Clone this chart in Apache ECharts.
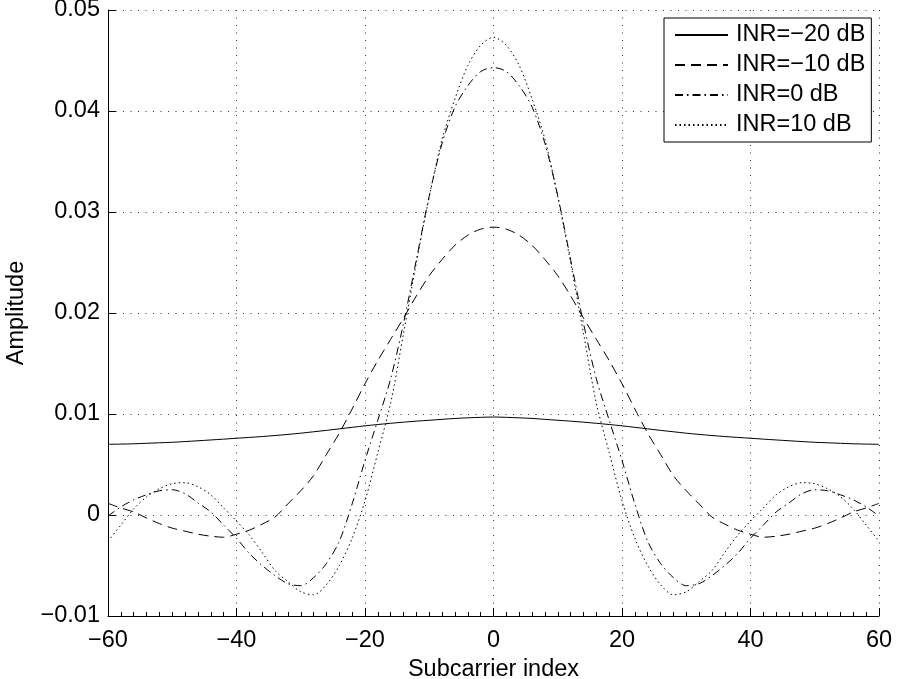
<!DOCTYPE html>
<html>
<head>
<meta charset="utf-8">
<script src="https://cdn.jsdelivr.net/npm/echarts@6/dist/echarts.min.js"></script>
<style>
  html, body { margin: 0; padding: 0; background: #fff; }
  #chart { width: 897px; height: 679px; }
</style>
</head>
<body>
<div id="chart"></div>
<script>
// Subcarrier indices (-60 .. 60, step 2)
const subcarriers = [
  -60, -58, -56, -54, -52, -50, -48, -46, -44, -42, -40, -38, -36, -34, -32, -30,
  -28, -26, -24, -22, -20, -18, -16, -14, -12, -10, -8, -6, -4, -2, 0,
  2, 4, 6, 8, 10, 12, 14, 16, 18, 20, 22, 24, 26, 28, 30,
  32, 34, 36, 38, 40, 42, 44, 46, 48, 50, 52, 54, 56, 58, 60
];

// Amplitude for each interference-to-noise ratio
const inrMinus20 = [
  0.0070, 0.00702, 0.00705, 0.0071, 0.00715, 0.0072, 0.00727, 0.00735, 0.00743, 0.00751,
  0.0076, 0.00768, 0.00777, 0.00787, 0.00798, 0.0081, 0.00824, 0.00838, 0.00853, 0.00868,
  0.00883, 0.00896, 0.00908, 0.00919, 0.00929, 0.00938, 0.00947, 0.00956, 0.00962, 0.00967,
  0.0097,
  0.00967, 0.00962, 0.00956, 0.00947, 0.00938, 0.00929, 0.00919, 0.00908, 0.00896, 0.00883,
  0.00868, 0.00853, 0.00838, 0.00824, 0.0081, 0.00798, 0.00787, 0.00777, 0.00768, 0.0076,
  0.00751, 0.00743, 0.00735, 0.00727, 0.0072, 0.00715, 0.0071, 0.00705, 0.00702, 0.0070
];
const inrMinus10 = [
  0.00115, 0.0007, 0.0003, -0.0003, -0.00085, -0.0013, -0.0016, -0.0019, -0.0021, -0.0022,
  -0.0019, -0.0015, -0.0009, -0.0002, 0.0011, 0.0024, 0.0039, 0.0060, 0.0081, 0.0105,
  0.0130, 0.0153, 0.0174, 0.0195, 0.0217, 0.0237, 0.0253, 0.0267, 0.0277, 0.0283,
  0.0285,
  0.0283, 0.0277, 0.0267, 0.0253, 0.0237, 0.0217, 0.0195, 0.0174, 0.0153, 0.0130,
  0.0105, 0.0081, 0.0060, 0.0039, 0.0024, 0.0011, -0.0002, -0.0009, -0.0015, -0.0019,
  -0.0022, -0.0021, -0.0019, -0.0016, -0.0013, -0.00085, -0.0003, 0.0003, 0.0007, 0.00115
];
const inr0 = [
  -0.0001, 0.0008, 0.0015, 0.0020, 0.0024, 0.0025, 0.0021, 0.0012, 0.0003, -0.0010,
  -0.0023, -0.0038, -0.0050, -0.0060, -0.0068, -0.0070, -0.0062, -0.0048, -0.0026, 0.0011,
  0.0054, 0.0094, 0.0135, 0.0190, 0.0253, 0.0316, 0.0368, 0.0404, 0.0425, 0.0439,
  0.0443,
  0.0439, 0.0425, 0.0404, 0.0368, 0.0316, 0.0253, 0.0190, 0.0135, 0.0094, 0.0054,
  0.0011, -0.0026, -0.0048, -0.0062, -0.0070, -0.0068, -0.0060, -0.0050, -0.0038, -0.0023,
  -0.0010, 0.0003, 0.0012, 0.0021, 0.0025, 0.0024, 0.0020, 0.0015, 0.0008, -0.0001
];
const inr10 = [
  -0.0026, -0.0010, 0.0006, 0.0018, 0.0026, 0.0031, 0.0032, 0.0028, 0.0020, 0.0007,
  -0.0006, -0.0020, -0.0037, -0.0055, -0.0066, -0.0076, -0.0079, -0.0069, -0.0050, -0.0023,
  0.0014, 0.0062, 0.0111, 0.0180, 0.0250, 0.0315, 0.0372, 0.0412, 0.0445, 0.0465,
  0.0473,
  0.0465, 0.0445, 0.0412, 0.0372, 0.0315, 0.0250, 0.0180, 0.0111, 0.0062, 0.0014,
  -0.0023, -0.0050, -0.0069, -0.0079, -0.0076, -0.0066, -0.0055, -0.0037, -0.0020, -0.0006,
  0.0007, 0.0020, 0.0028, 0.0032, 0.0031, 0.0026, 0.0018, 0.0006, -0.0010, -0.0026
];

const seriesNames = ['INR=\u221220 dB', 'INR=\u221210 dB', 'INR=0 dB', 'INR=10 dB'];
const seriesValues = [inrMinus20, inrMinus10, inr0, inr10];
const dashPatterns = ['solid', [10, 6], [8, 4, 1.5, 4], [1.5, 3]];

const FONT = 'Liberation Sans, Arial, Helvetica, sans-serif';
const FS = 23.5;

function fmtTick(v) {
  const r = Math.round(v * 1000) / 1000;
  if (r === 0) return '0';
  return String(r).replace('-', '\u2212');
}

const chart = echarts.init(document.getElementById('chart'), null, { renderer: 'canvas' });

const gridLine = { show: true, lineStyle: { color: '#333', width: 1, type: [1, 6.5] } };

chart.setOption({
  animation: false,
  backgroundColor: '#fff',
  grid: { left: 108, right: 18, top: 10, bottom: 63, containLabel: false, outerBoundsMode: 'none' },
  legend: {
    orient: 'vertical',
    left: 664,
    top: 18,
    padding: [5, 6, 5, 10],
    itemWidth: 53,
    itemHeight: 14,
    itemGap: 6,
    backgroundColor: '#fff',
    borderColor: '#000',
    borderWidth: 1,
    borderRadius: 0,
    itemStyle: { opacity: 0 },
    textStyle: { fontFamily: FONT, fontSize: FS, color: '#000', padding: [0, 0, 0, 3] },
    data: seriesNames
  },
  xAxis: {
    type: 'value',
    min: -60,
    max: 60,
    interval: 20,
    name: 'Subcarrier index',
    nameLocation: 'middle',
    nameGap: 24,
    nameTextStyle: { fontFamily: FONT, fontSize: FS, color: '#000' },
    axisLine: { show: true, onZero: false, lineStyle: { color: '#000', width: 1 } },
    axisTick: { show: true, inside: true, length: 8, lineStyle: { color: '#000' } },
    minorTick: { show: true, splitNumber: 10, length: 4, lineStyle: { color: '#000' } },
    axisLabel: { fontFamily: FONT, fontSize: FS, color: '#000', margin: 13, formatter: fmtTick },
    splitLine: gridLine
  },
  yAxis: {
    type: 'value',
    min: -0.01,
    max: 0.05,
    interval: 0.01,
    name: 'Amplitude',
    nameLocation: 'middle',
    nameGap: 79,
    nameMoveOverlap: false,
    nameRotate: 90,
    nameTextStyle: { fontFamily: FONT, fontSize: FS, color: '#000' },
    axisLine: { show: true, onZero: false, lineStyle: { color: '#000', width: 1 } },
    axisTick: { show: true, inside: true, length: 8, lineStyle: { color: '#000' } },
    axisLabel: { fontFamily: FONT, fontSize: FS, color: '#000', margin: 8, formatter: fmtTick },
    splitLine: gridLine
  },
  series: seriesNames.map((name, k) => ({
    name: name,
    type: 'line',
    symbol: 'none',
    smooth: 0.3,
    lineStyle: { color: '#000', width: 1, type: dashPatterns[k] },
    itemStyle: { color: '#000' },
    data: subcarriers.map((x, i) => [x, seriesValues[k][i]])
  }))
});
</script>
</body>
</html>
